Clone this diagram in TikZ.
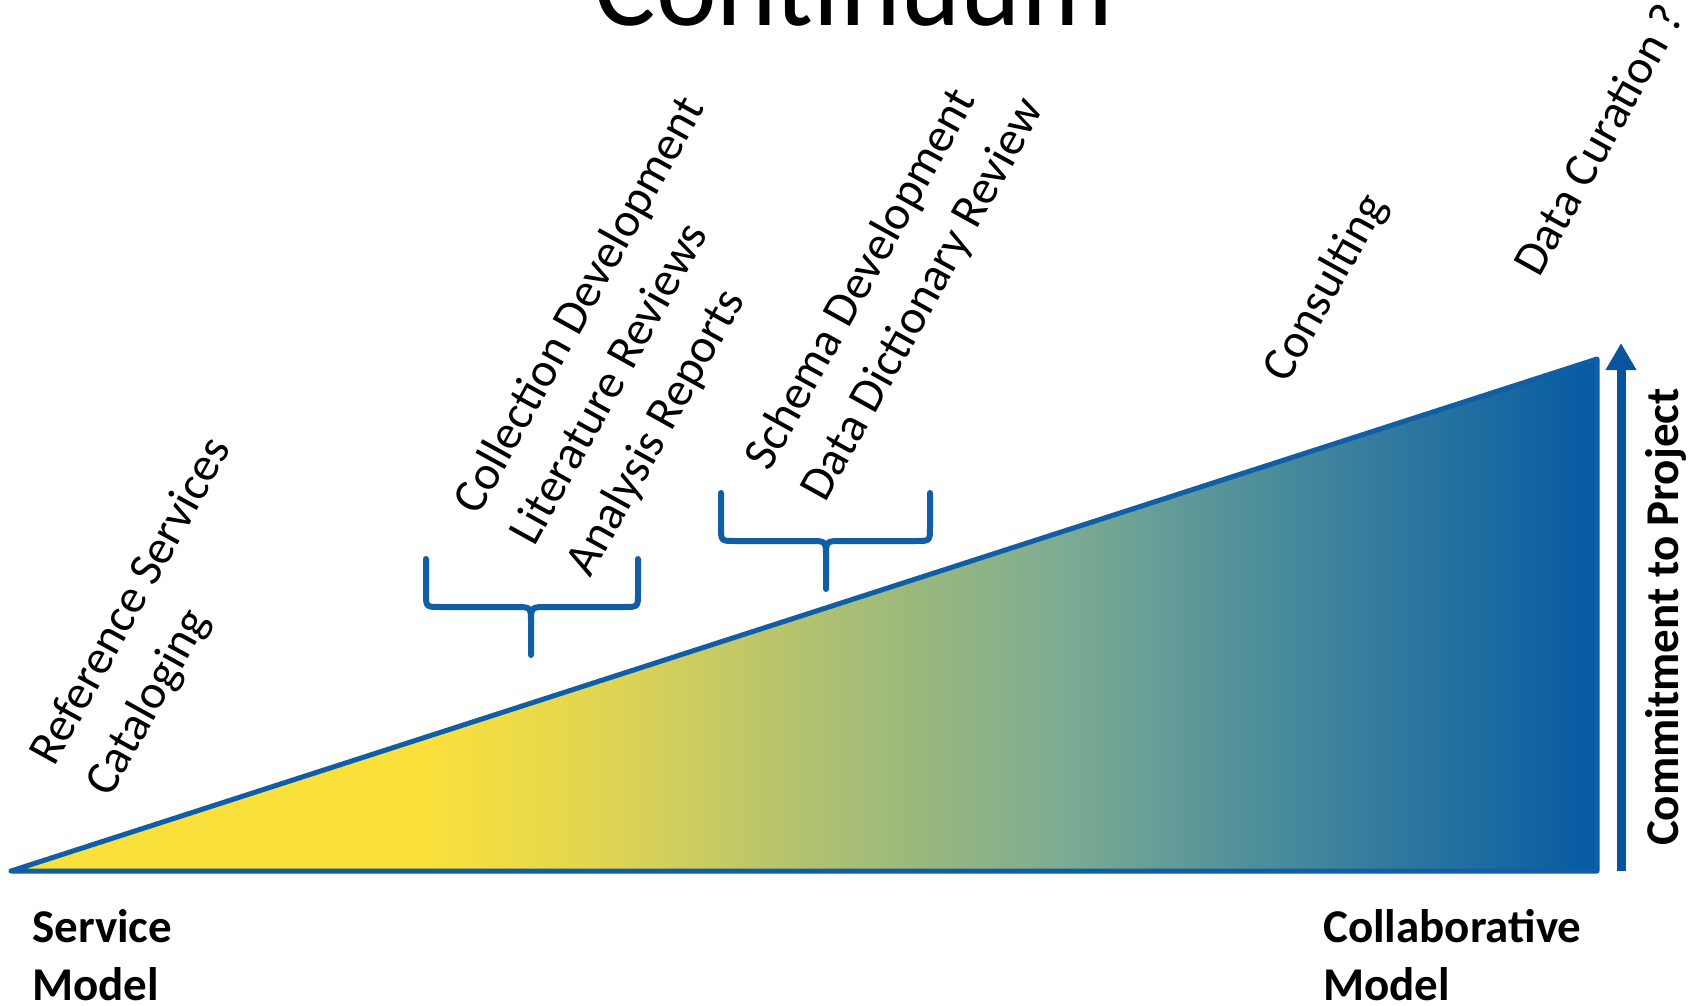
\documentclass[tikz,border=0pt]{standalone}
\usepackage{fontspec}
\setmainfont{Carlito}
\usetikzlibrary{arrows.meta}

% colours of the outline, the braces and the axis arrow
\definecolor{edgeblue}{RGB}{16,94,166}
\definecolor{arrowblue}{RGB}{10,84,158}
% stops of the yellow-to-blue fill
\definecolor{cy}{RGB}{250,224,58}
\definecolor{cb}{RGB}{226,214,80}
\definecolor{cc}{RGB}{168,190,116}
\definecolor{cd}{RGB}{125,172,146}
\definecolor{ce}{RGB}{68,136,156}
\definecolor{cf}{RGB}{5,90,163}

% the path's bounding box is mapped onto 25bp..75bp of the shading
\pgfdeclarehorizontalshading{continuumfill}{100bp}{%
  color(0bp)=(cy); color(38bp)=(cy); color(43.4bp)=(cb);
  color(51.45bp)=(cc); color(58.1bp)=(cd); color(65.6bp)=(ce);
  color(75bp)=(cf); color(100bp)=(cf)}

\begin{document}
\begin{tikzpicture}[x=1pt,y=1pt,
  lbl/.style={font=\fontsize{48}{58}\selectfont, anchor=base west, inner sep=0pt},
  modellbl/.style={font=\fontsize{47}{57}\selectfont\bfseries, anchor=base west, inner sep=0pt},
  bracket/.style={draw=edgeblue, line width=6, line cap=round, line join=round},
  outline/.style={draw=edgeblue, line width=5, line join=round, line cap=round},
  slant/.style={rotate=61, transform shape}]

\useasboundingbox (0,-1006) rectangle (1700,0);

% title, partly outside the page
\node[font=\fontsize{115}{130}\selectfont, anchor=base, inner sep=0pt] (title) at (854,-26) {Continuum};

% the wedge
\coordinate (tipL) at (11,-871);
\coordinate (baseR) at (1597,-871);
\coordinate (topR) at (1597,-359);
\shade[shading=continuumfill] (tipL) -- (baseR) -- (topR) -- cycle;
\draw[outline] (tipL) -- (baseR) -- (topR) -- cycle;

% vertical axis arrow
\coordinate (axisA) at (1621,-871);
\coordinate (axisB) at (1621,-343);
\draw[draw=arrowblue, line width=9, -{Triangle[length=27, width=29]}] (axisA) -- (axisB);
\node[font=\fontsize{47}{57}\selectfont\bfseries, rotate=90, anchor=base, inner sep=0pt] (commit) at (1678,-617) {Commitment to Project};

% slanted service labels
\begin{scope}[shift={(54.5,-768)}, slant]
  \node[lbl] (ref) at (0,0) {Reference Services};
  \node[lbl] (cat) at (0,-64) {Cataloging};
\end{scope}
\begin{scope}[shift={(478.5,-517)}, slant]
  \node[lbl] (coll) at (0,0) {Collection Development};
  \node[lbl] (lit) at (0,-64) {Literature Reviews};
  \node[lbl] (ana) at (0,-128) {Analysis Reports};
\end{scope}
\begin{scope}[shift={(769.5,-473)}, slant]
  \node[lbl] (schema) at (0,0) {Schema Development};
  \node[lbl] (dict) at (0,-64) {Data Dictionary Review};
\end{scope}
\begin{scope}[shift={(1287.5,-385)}, slant]
  \node[lbl] (cons) at (0,0) {Consulting};
\end{scope}
\begin{scope}[shift={(1539.5,-279)}, slant]
  \node[lbl] (cur) at (0,0) {Data Curation ?};
\end{scope}

% braces grouping the middle labels
\draw[bracket] (426,-559) -- (426,-593) .. controls (426,-607) .. (440,-607)
  -- (515,-607) .. controls (531,-607) .. (531,-623) -- (531,-655);
\draw[bracket] (638,-559) -- (638,-593) .. controls (638,-607) .. (624,-607)
  -- (547,-607) .. controls (531,-607) .. (531,-623);
\draw[bracket] (721,-493) -- (721,-527) .. controls (721,-541) .. (735,-541)
  -- (810,-541) .. controls (826,-541) .. (826,-557) -- (826,-589);
\draw[bracket] (930,-493) -- (930,-527) .. controls (930,-541) .. (916,-541)
  -- (842,-541) .. controls (826,-541) .. (826,-557);

% end labels
\node[modellbl] (svc1) at (32,-942) {Service};
\node[modellbl] (svc2) at (32,-1000) {Model};
\node[modellbl] (col1) at (1323,-942) {Collaborative};
\node[modellbl] (col2) at (1323,-1000) {Model};
\end{tikzpicture}
\end{document}
